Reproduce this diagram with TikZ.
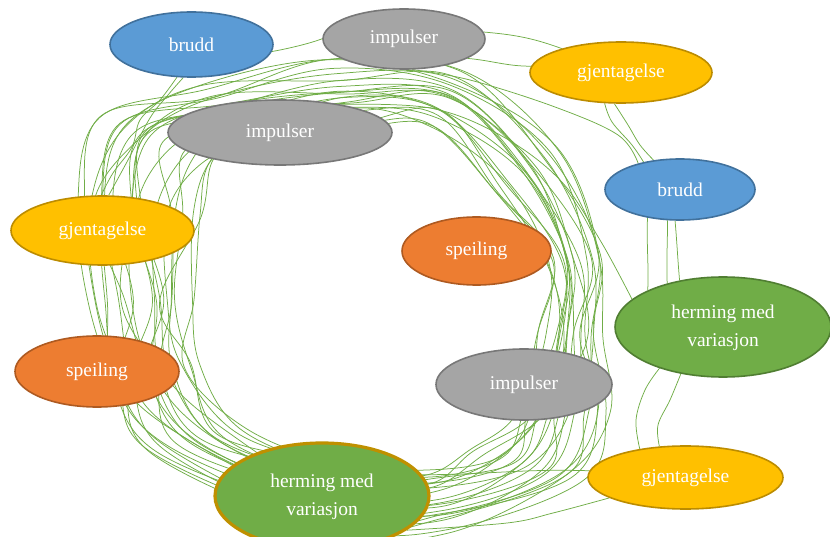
\documentclass[tikz,border=0pt]{standalone}
\usepackage{fontspec}
\setmainfont{Liberation Serif}
\usetikzlibrary{shapes.geometric,backgrounds}

\definecolor{bluefill}{HTML}{5B9BD5}
\definecolor{blueline}{HTML}{41719C}
\definecolor{grayfill}{HTML}{A5A5A5}
\definecolor{grayline}{HTML}{787878}
\definecolor{yellowfill}{HTML}{FFC000}
\definecolor{yellowline}{HTML}{BC8C00}
\definecolor{orangefill}{HTML}{ED7D31}
\definecolor{orangeline}{HTML}{AE5A21}
\definecolor{greenfill}{HTML}{70AD47}
\definecolor{greenline}{HTML}{507E32}
\definecolor{goldline}{HTML}{BF9000}
\definecolor{strandgreen}{HTML}{70AD47}

% one point of a ring strand, placed between an inner and an outer edge,
% with a little hand-drawn wobble
\newcommand\ringpt[5]{%
  \pgfmathsetmacro\ringt{max(0,min(1,\ringbase+0.36*(rnd-0.5)))}%
  \coordinate (#1) at ({#2+\ringt*(#4-#2)+7*(rnd-0.5)},{#3+\ringt*(#5-#3)+7*(rnd-0.5)});%
}
% two-line label
\newcommand\twolines[2]{\raisebox{-3pt}{\begin{tabular}{@{}c@{}}#1\\#2\end{tabular}}}

\tikzset{
  blob/.style={ellipse, draw, line width=1.6pt, inner sep=0pt, text=white,
    font=\fontsize{19.5}{27.5}\selectfont, align=center},
  bluebl/.style={blob, fill=bluefill, draw=blueline},
  graybl/.style={blob, fill=grayfill, draw=grayline},
  yellowbl/.style={blob, fill=yellowfill, draw=yellowline},
  orangebl/.style={blob, fill=orangefill, draw=orangeline},
  greenbl/.style={blob, fill=greenfill, draw=greenline},
  strand/.style={draw=strandgreen, line width=0.75pt, line join=round},
}

\begin{document}
\begin{tikzpicture}[x=1pt,y=-1pt]
\useasboundingbox (0,0) rectangle (830,537);

% the ellipses
\node[bluebl,   minimum width=163pt, minimum height=65pt] (b1) at (191.5,44.5) {brudd};
\node[graybl,   minimum width=162pt, minimum height=60pt] (i1) at (404,39) {impulser};
\node[yellowbl, minimum width=182pt, minimum height=61pt] (g1) at (621,72.5) {gjentagelse};
\node[graybl,   minimum width=224pt, minimum height=65pt] (i2) at (280,132.5) {impulser};
\node[bluebl,   minimum width=150pt, minimum height=61pt] (b2) at (680,189.5) {brudd};
\node[yellowbl, minimum width=183pt, minimum height=69pt] (g2) at (102.5,230.5) {gjentagelse};
\node[orangebl, minimum width=149pt, minimum height=68pt] (s1) at (476.5,251) {speiling};
\node[greenbl,  minimum width=216pt, minimum height=100pt] (h1) at (723,327) {\twolines{herming med}{variasjon}};
\node[orangebl, minimum width=164pt, minimum height=71pt] (s2) at (97,371.5) {speiling};
\node[graybl,   minimum width=176pt, minimum height=71pt] (i3) at (524,384.5) {impulser};
\node[greenbl, draw=goldline, line width=3.2pt, minimum width=214pt, minimum height=106pt] (h2) at (322,496) {\twolines{herming med}{variasjon}};
\node[yellowbl, minimum width=195pt, minimum height=63pt] (g3) at (685.5,477.5) {gjentagelse};

\begin{pgfonlayer}{background}
% the bundle of strands running round the ring
\pgfmathsetseed{4242}
\foreach \k in {1,...,22}{
  \pgfmathsetmacro\ringbase{(\k-0.5)/22+0.04*(rnd-0.5)}
  \ringpt{w1}{330}{462}{335}{528}
  \ringpt{w2}{245}{428}{150}{455}
  \ringpt{w3}{200}{362}{105}{385}
  \ringpt{w4}{192}{300}{86}{300}
  \ringpt{w5}{200}{215}{80}{205}
  \ringpt{w6}{210}{160}{100}{118}
  \ringpt{w7}{262}{140}{200}{82}
  \ringpt{w8}{360}{128}{330}{60}
  \ringpt{w9}{430}{128}{460}{70}
  \ringpt{w10}{495}{190}{558}{150}
  \ringpt{w11}{545}{262}{602}{255}
  \ringpt{w12}{540}{335}{606}{335}
  \ringpt{w13}{515}{410}{610}{410}
  \ringpt{w14}{470}{452}{580}{480}
  \ringpt{w15}{420}{468}{450}{532}
  \draw[strand] plot[smooth cycle, tension=0.6] coordinates
    {(w1) (w2) (w3) (w4) (w5) (w6) (w7) (w8) (w9) (w10) (w11) (w12) (w13) (w14) (w15)};
}

% single strands between neighbouring ellipses
\draw[strand] (b1.-5) to[out=10,in=-15] (i1.172);
\draw[strand] (i1.5) to[out=-5,in=160] (g1.158);
\draw[strand] (i1.-17) to[out=-5,in=180] (g1.176);
\draw[strand] plot[smooth, tension=0.6] coordinates {(g1.-118) (612,122) (632,145) (b2.143)};
\draw[strand] plot[smooth, tension=0.6] coordinates {(g1.-102) (628,125) (640,145) (b2.132)};
\draw[strand] plot[smooth, tension=0.6] coordinates {(i1.-75) (470,80) (555,107) (618,135) (b2.148)};
\draw[strand] (b2.-139) to[out=-92,in=88] (h1.154);
\draw[strand] (b2.-112) to[out=-90,in=92] (h1.142);
\draw[strand] (b2.-99) to[out=-85,in=95] (h1.133);
\draw[strand] plot[smooth, tension=0.6] coordinates {(i2.25) (430,108) (500,135) (560,180) (600,240) (h1.163)};
\draw[strand] plot[smooth, tension=0.6] coordinates {(h1.-147) (645,390) (636,420) (g3.148)};
\draw[strand] plot[smooth, tension=0.6] coordinates {(h1.-132) (670,400) (658,425) (g3.130)};
\draw[strand] (g3.176) to[out=178,in=0] (h2.12);
\draw[strand] plot[smooth, tension=0.6] coordinates {(g3.-165) (553,513) (507,523) (h2.-22)};
\draw[strand] plot[smooth, tension=0.6] coordinates {(b1.-114) (160,100) (140,120) (132,147) (113,173) (g2.92)};
\draw[strand] plot[smooth, tension=0.6] coordinates {(b1.-104) (168,95) (150,118) (128,160) (g2.80)};
\end{pgfonlayer}
\end{tikzpicture}
\end{document}
